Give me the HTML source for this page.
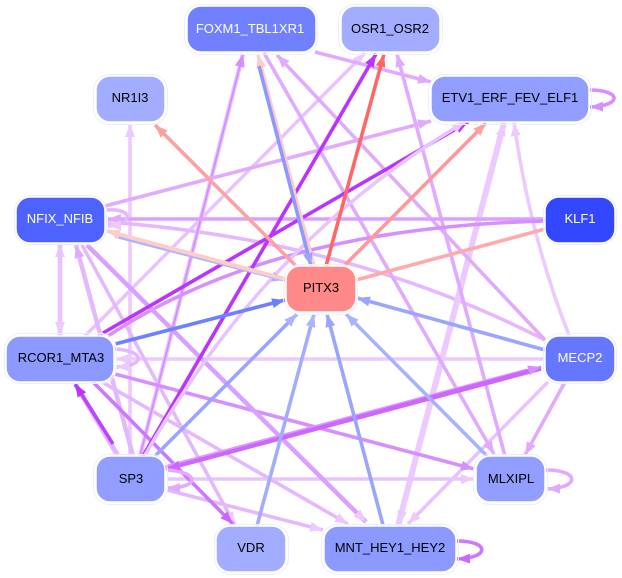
<!DOCTYPE html>
<html><head><meta charset="utf-8">
<style>
html,body{margin:0;padding:0;background:#fff;width:622px;height:578px;overflow:hidden}
svg{display:block}
text{font-family:"Liberation Sans",sans-serif;font-size:13px;text-anchor:middle}
path{fill:none;stroke-linejoin:round}
</style></head><body>
<svg width="622" height="578" viewBox="0 0 622 578" xmlns="http://www.w3.org/2000/svg">
<defs>
<marker id="a" markerUnits="userSpaceOnUse" markerWidth="14" markerHeight="11" refX="13" refY="5" orient="auto"><path d="M0 0L13 5L0 10z" style="fill:#eccaff"/></marker>
<marker id="b" markerUnits="userSpaceOnUse" markerWidth="14" markerHeight="11" refX="13" refY="5" orient="auto"><path d="M0 0L13 5L0 10z" style="fill:#e0aaff"/></marker>
<marker id="c" markerUnits="userSpaceOnUse" markerWidth="14" markerHeight="11" refX="13" refY="5" orient="auto"><path d="M0 0L13 5L0 10z" style="fill:#d68fff"/></marker>
<marker id="d" markerUnits="userSpaceOnUse" markerWidth="14" markerHeight="11" refX="13" refY="5" orient="auto"><path d="M0 0L13 5L0 10z" style="fill:#bb33ff"/></marker>
<marker id="e" markerUnits="userSpaceOnUse" markerWidth="14" markerHeight="11" refX="13" refY="5" orient="auto"><path d="M0 0L13 5L0 10z" style="fill:#cc66ff"/></marker>
<marker id="f" markerUnits="userSpaceOnUse" markerWidth="14" markerHeight="11" refX="13" refY="5" orient="auto"><path d="M0 0L13 5L0 10z" style="fill:#9aa5ff"/></marker>
<marker id="g" markerUnits="userSpaceOnUse" markerWidth="14" markerHeight="11" refX="13" refY="5" orient="auto"><path d="M0 0L13 5L0 10z" style="fill:#aab4ff"/></marker>
<marker id="h" markerUnits="userSpaceOnUse" markerWidth="14" markerHeight="11" refX="13" refY="5" orient="auto"><path d="M0 0L13 5L0 10z" style="fill:#6d80ff"/></marker>
<marker id="i" markerUnits="userSpaceOnUse" markerWidth="14" markerHeight="11" refX="13" refY="5" orient="auto"><path d="M0 0L13 5L0 10z" style="fill:#ff6666"/></marker>
<marker id="j" markerUnits="userSpaceOnUse" markerWidth="14" markerHeight="11" refX="13" refY="5" orient="auto"><path d="M0 0L13 5L0 10z" style="fill:#ffa0a0"/></marker>
<marker id="k" markerUnits="userSpaceOnUse" markerWidth="14" markerHeight="11" refX="13" refY="5" orient="auto"><path d="M0 0L13 5L0 10z" style="fill:#ffccc8"/></marker>
</defs>

<g stroke-width="3.6">
<path d="M130 456L130 124" stroke="#eccaff" marker-end="url(#a)"/>
<path d="M85 336L365 53" stroke="#e8c4ff" marker-end="url(#a)"/>
<path d="M60 336L60 244" stroke="#e8c4ff" stroke-width="4.5" marker-end="url(#a)"/>
<path d="M60 243L60 335" stroke="#e8c4ff" stroke-width="4.5" marker-end="url(#a)"/>
<path d="M545 359L116 359" stroke="#eccaff" marker-end="url(#a)"/>
<path d="M545 340Q350 240 108 222" stroke="#e4b8ff" marker-end="url(#a)"/>
<path d="M569 335Q531 240 514 123" stroke="#eccaff" marker-end="url(#a)"/>
<path d="M398 526L504 123" stroke="#eccaff" stroke-width="6" marker-end="url(#a)"/>
<path d="M504 122L399 524" stroke="#eccaff" stroke-width="4" marker-end="url(#a)"/>
<path d="M548 382L408 524" stroke="#e8c4ff" marker-end="url(#a)"/>
<path d="M167 479L474 479" stroke="#e8c4ff" marker-end="url(#a)"/>
<path d="M167 490L323 530" stroke="#e4b8ff" marker-end="url(#a)"/>
<path d="M102 382L348 524" stroke="#e4b8ff" marker-end="url(#a)"/>
<path d="M82 245L235 525" stroke="#e4b8ff" marker-end="url(#a)"/>
<path d="M133 456L76 245" stroke="#e4b8ff" stroke-width="4.5" marker-end="url(#b)"/>
<path d="M140 456L243 54" stroke="#e8c4ff" stroke-width="4.5" marker-end="url(#c)"/>
<path d="M140 456L243 54" stroke="#d28cff" stroke-width="1.8"/>
<path d="M264 53L494 454" stroke="#e0aaff" marker-end="url(#b)"/>
<path d="M545 340L277 55" stroke="#e0aaff" marker-end="url(#b)"/>
<path d="M315 52L431 82" stroke="#e0aaff" marker-end="url(#b)"/>
<path d="M505 456L397 54" stroke="#e0aaff" marker-end="url(#b)"/>
<path d="M105 206L431 121" stroke="#e0aaff" marker-end="url(#b)"/>
<path d="M545 219L108 219" stroke="#dd9fff" marker-end="url(#b)"/>
<path d="M108 336Q270 228 545 221" stroke="#d68fff"/>
<path d="M115 374L474 469" stroke="#d68fff" marker-end="url(#c)"/>
<path d="M565 382L525 455" stroke="#e0aaff" marker-end="url(#b)"/>
<path d="M87 245L366 522" stroke="#d9a0ff" stroke-width="4.5" marker-end="url(#a)"/>
<path d="M93 382L233 524" stroke="#cc77ff" marker-end="url(#e)"/>
<path d="M118 456L76 385" stroke="#e4b8ff" stroke-width="5"/>
<path d="M113 444L75 384" stroke="#bb44ff" marker-end="url(#d)"/>
<path d="M143 456L376 54" stroke="#bb33ff" marker-end="url(#d)"/>
<path d="M103 333L468 122" stroke="#bb33ff" marker-end="url(#d)"/>
<path d="M145 455C200 360 290 225 465 122" stroke="#e8c4ff" marker-end="url(#a)"/>
<path d="M165 468L528 371" stroke="#dd99ff" stroke-width="5.500"/>
<path d="M541 369L167 469" stroke="#cc66ff" marker-end="url(#e)"/>
<path d="M167 468L541 367" stroke="#cc66ff" stroke-width="2.500" marker-end="url(#c)"/>
<path d="M115 344L285 300" stroke="#6d80ff" marker-end="url(#h)"/>
<path d="M155 456L297 314" stroke="#9aa5ff" marker-end="url(#g)"/>
<path d="M257 526L314 314" stroke="#a3adff" marker-end="url(#g)"/>
<path d="M383 525L327 314" stroke="#9aa5ff" marker-end="url(#f)"/>
<path d="M487 456L346 314" stroke="#a8b2ff" marker-end="url(#g)"/>
<path d="M545 350L357 298" stroke="#9aa5ff" marker-end="url(#f)"/>
<path d="M115 236L285 280" stroke="#aab4ff" marker-end="url(#g)"/>
<path d="M285 279L107 231" stroke="#ffccc8" stroke-width="4" marker-end="url(#k)"/>
<path d="M314 266L258 55" stroke="#ffccc8" marker-end="url(#k)"/>
<path d="M259 66L311 266" stroke="#8c9aff" marker-end="url(#f)"/>
<path d="M296 266L155 125" stroke="#ffa0a0" marker-end="url(#j)"/>
<path d="M326 266L384 54" stroke="#ff6666" marker-end="url(#i)"/>
<path d="M344 266L486 123" stroke="#ff9999" marker-end="url(#j)"/>
<path d="M356 280L545 229" stroke="#ffaaaa"/>
<path d="M590 90C622 90 622 106 590 107" stroke="#d68fff" marker-end="url(#c)"/>
<path d="M106 210C134 208 134 224 108 226" stroke="#e4b8ff" marker-end="url(#a)"/>
<path d="M115 349C146 351 146 366 116 367" stroke="#e4b8ff" marker-end="url(#a)"/>
<path d="M167 470C200 472 200 488 167 488" stroke="#e0aaff" marker-end="url(#b)"/>
<path d="M546 470C580 470 580 488 547 489" stroke="#e0aaff" marker-end="url(#b)"/>
<path d="M457 541C490 541 490 558 457 559" stroke="#cc77ff" marker-end="url(#e)"/>
</g>

<g stroke="#eceeff" stroke-width="1" fill="none">
<rect x="184.500" y="4.500" width="133" height="50" rx="16"/>
<rect x="338.500" y="4.500" width="104" height="50" rx="16"/>
<rect x="428.500" y="74.500" width="163" height="50" rx="16"/>
<rect x="93.500" y="74.500" width="74" height="50" rx="16"/>
<rect x="14.500" y="195.500" width="92" height="49" rx="16"/>
<rect x="543.500" y="195.500" width="73" height="49" rx="16"/>
<rect x="283.500" y="264.500" width="74" height="50" rx="16" stroke="#ffecec"/>
<rect x="4.500" y="333.500" width="112" height="50" rx="16"/>
<rect x="543.500" y="333.500" width="73" height="50" rx="16"/>
<rect x="93.500" y="454.500" width="74" height="50" rx="16"/>
<rect x="473.500" y="454.500" width="74" height="50" rx="16"/>
<rect x="214.500" y="524.500" width="74" height="50" rx="16"/>
<rect x="321.500" y="524.500" width="137" height="50" rx="16"/>
</g>
<g stroke="#fff" stroke-width="1.500">
<rect x="187" y="6" width="129" height="46" rx="14" fill="#7080ff"/>
<rect x="341" y="6" width="99" height="46" rx="14" fill="#a3adff"/>
<rect x="431" y="76" width="158" height="46" rx="14" fill="#919dff"/>
<rect x="96" y="76" width="69" height="46" rx="14" fill="#a3adff"/>
<rect x="16" y="197" width="89" height="46" rx="14" fill="#4d62ff"/>
<rect x="545" y="197" width="70" height="46" rx="14" fill="#3347ff"/>
<rect x="286" y="266" width="70" height="46" rx="14" fill="#ff8888"/>
<rect x="6" y="336" width="108" height="46" rx="14" fill="#8c99ff"/>
<rect x="545" y="336" width="70" height="46" rx="14" fill="#6677ff"/>
<rect x="96" y="456" width="69" height="46" rx="14" fill="#919dff"/>
<rect x="476" y="456" width="69" height="46" rx="14" fill="#919dff"/>
<rect x="216" y="526" width="70" height="46" rx="14" fill="#a3adff"/>
<rect x="324" y="526" width="132" height="46" rx="14" fill="#8c99ff"/>
</g>
<text x="250" y="33" fill="#fff">FOXM1_TBL1XR1</text>
<text x="390" y="33">OSR1_OSR2</text>
<text x="510" y="102">ETV1_ERF_FEV_ELF1</text>
<text x="130" y="102">NR1I3</text>
<text x="60" y="223" fill="#fff">NFIX_NFIB</text>
<text x="580" y="223" fill="#fff">KLF1</text>
<text x="321" y="292">PITX3</text>
<text x="61" y="362">RCOR1_MTA3</text>
<text x="580" y="362" fill="#fff">MECP2</text>
<text x="131" y="483">SP3</text>
<text x="511" y="483">MLXIPL</text>
<text x="251" y="552">VDR</text>
<text x="390" y="552">MNT_HEY1_HEY2</text>
</svg>
</body></html>
